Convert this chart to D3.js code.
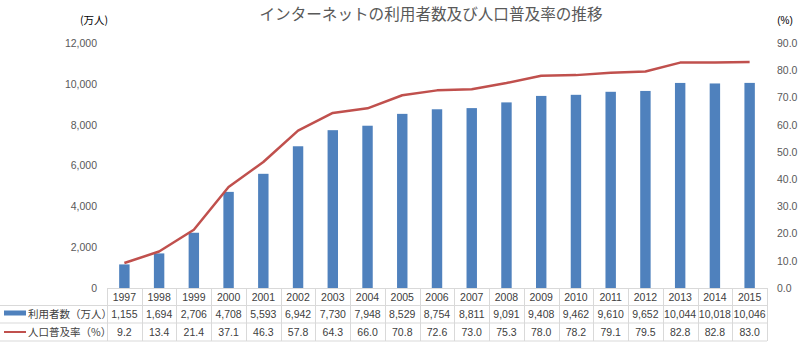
<!DOCTYPE html>
<html><head><meta charset="utf-8">
<script src="https://cdn.jsdelivr.net/npm/d3@7/dist/d3.min.js"></script>
<style>
body{margin:0;background:#fff;}
svg{display:block;}
</style></head>
<body>
<svg id="c" width="801" height="342"></svg>
<script>
const years = ["1997","1998","1999","2000","2001","2002","2003","2004","2005","2006","2007","2008","2009","2010","2011","2012","2013","2014","2015"];
const users = [1155,1694,2706,4708,5593,6942,7730,7948,8529,8754,8811,9091,9408,9462,9610,9652,10044,10018,10046];
const rate = [9.2,13.4,21.4,37.1,46.3,57.8,64.3,66.0,70.8,72.6,73.0,75.3,78.0,78.2,79.1,79.5,82.8,82.8,83.0];
const leftTicks = [0,2000,4000,6000,8000,10000,12000];
const rightTicks = [0,10,20,30,40,50,60,70,80,90];
const title = "インターネットの利用者数及び人口普及率の推移";
const seriesNames = ["利用者数（万人）","人口普及率（%）"];
const leftUnit = "(万人)";
const rightUnit = "(%)";

const svg = d3.select("#c");
const numFont = "'Liberation Sans', Arial, sans-serif";
const jpFont = "'Noto Sans CJK JP', sans-serif";
const pLeft = 107, pRight = 767, pTop = 43, pBottom = 288;
const x = d3.scaleBand().domain(years).range([pLeft, pRight]).padding(0);
const yL = d3.scaleLinear().domain([0, 12000]).range([pBottom, pTop]);
const yR = d3.scaleLinear().domain([0, 90]).range([pBottom, pTop]);

// title
svg.append("text").attr("x", 431).attr("y", 20).attr("text-anchor", "middle")
  .attr("font-family", jpFont).attr("font-size", 15.6).attr("fill", "#595959").text(title);
svg.append("text").attr("x", 94).attr("y", 24).attr("text-anchor", "middle")
  .attr("font-family", jpFont).attr("font-size", 10.5).attr("fill", "#000").text(leftUnit);
svg.append("text").attr("x", 785).attr("y", 24).attr("text-anchor", "middle")
  .attr("font-family", numFont).attr("font-size", 10).attr("fill", "#000").text(rightUnit);

// axes
const gL = svg.append("g").attr("transform", `translate(${pLeft - 10},0)`)
  .call(d3.axisLeft(yL).tickValues(leftTicks).tickSize(0).tickPadding(0).tickFormat(d3.format(",")));
gL.select(".domain").remove();
gL.selectAll("text").attr("font-family", numFont).attr("font-size", 10.5).attr("fill", "#595959");

const gR = svg.append("g").attr("transform", `translate(777,0)`)
  .call(d3.axisRight(yR).tickValues(rightTicks).tickSize(0).tickPadding(0).tickFormat(d3.format(".1f")));
gR.select(".domain").remove();
gR.selectAll("text").attr("font-family", numFont).attr("font-size", 10.5).attr("fill", "#595959");

// bars
const bw = x.bandwidth() * 0.3;
svg.append("g").selectAll("rect").data(years).join("rect")
  .attr("x", d => x(d) + (x.bandwidth() - bw) / 2)
  .attr("width", bw)
  .attr("y", (d, i) => yL(users[i]))
  .attr("height", (d, i) => pBottom - yL(users[i]))
  .attr("fill", "#4f81bd");

// line
const line = d3.line().x((d, i) => x(years[i]) + x.bandwidth() / 2).y(d => yR(d));
svg.append("path").datum(rate).attr("d", line).attr("fill", "none")
  .attr("stroke", "#c0504d").attr("stroke-width", 2.5).attr("stroke-linejoin", "round");

// table
const rowY = [288, 305.5, 323, 341];
const grid = svg.append("g").attr("stroke", "#d9d9d9").attr("stroke-width", 1);
grid.append("line").attr("x1", pLeft).attr("x2", pRight).attr("y1", rowY[0] + 0.5).attr("y2", rowY[0] + 0.5);
grid.append("line").attr("x1", 0).attr("x2", pRight).attr("y1", rowY[1]).attr("y2", rowY[1]);
grid.append("line").attr("x1", 0).attr("x2", pRight).attr("y1", rowY[2]).attr("y2", rowY[2]);
grid.append("line").attr("x1", 0).attr("x2", pRight).attr("y1", rowY[3]).attr("y2", rowY[3]);
const bounds = years.map(d => x(d)).concat([pRight]);
grid.selectAll("line.v").data(bounds).join("line").attr("class", "v")
  .attr("x1", d => Math.round(d) + 0.5).attr("x2", d => Math.round(d) + 0.5)
  .attr("y1", rowY[0]).attr("y2", rowY[3]);

const tbl = svg.append("g").attr("font-family", numFont).attr("font-size", 10.5).attr("fill", "#404040").attr("text-anchor", "middle");
const cx = d => x(d) + x.bandwidth() / 2;
tbl.selectAll("text.yr").data(years).join("text").attr("class", "yr")
  .attr("x", cx).attr("y", 300.5).text(d => d);
tbl.selectAll("text.us").data(years).join("text").attr("class", "us")
  .attr("x", cx).attr("y", 318).text((d, i) => d3.format(",")(users[i]));
tbl.selectAll("text.rt").data(years).join("text").attr("class", "rt")
  .attr("x", cx).attr("y", 336).text((d, i) => d3.format(".1f")(rate[i]));

// legend keys
svg.append("rect").attr("x", 4).attr("y", 310.5).attr("width", 22).attr("height", 5).attr("fill", "#4f81bd");
svg.append("line").attr("x1", 4).attr("x2", 26).attr("y1", 332).attr("y2", 332).attr("stroke", "#c0504d").attr("stroke-width", 2);
svg.append("text").attr("x", 28).attr("y", 318).attr("font-family", jpFont).attr("font-size", 10.5).attr("fill", "#404040").text(seriesNames[0]);
svg.append("text").attr("x", 28).attr("y", 336).attr("font-family", jpFont).attr("font-size", 10.5).attr("fill", "#404040").text(seriesNames[1]);
</script>
</body></html>
